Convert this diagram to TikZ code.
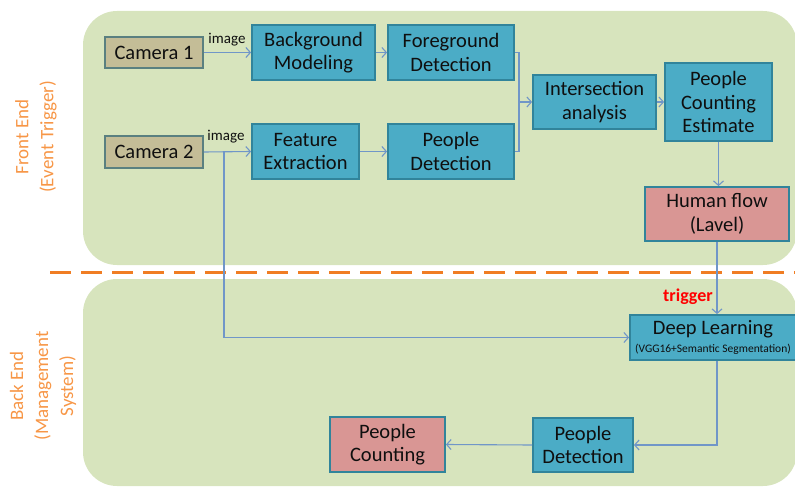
\documentclass[tikz,border=0pt]{standalone}
\usepackage{fontspec}
\setmainfont{Carlito}
\usetikzlibrary{arrows.meta,calc}
\definecolor{panel}{RGB}{215,228,189}
\definecolor{boxblue}{RGB}{75,172,198}
\definecolor{boxborder}{RGB}{49,132,155}
\definecolor{tan}{RGB}{196,189,151}
\definecolor{tanborder}{RGB}{90,128,128}
\definecolor{pinkbox}{RGB}{217,150,148}
\definecolor{linkc}{RGB}{112,150,200}
\definecolor{orangetxt}{RGB}{247,150,70}
\definecolor{orangedash}{RGB}{240,125,35}
\definecolor{txt}{RGB}{15,15,15}
\tikzset{
  x=1pt,y=-1pt,
  boxst/.style={draw=boxborder,fill=boxblue,line width=1.8pt,align=center,inner sep=0pt,
    text=txt,font=\fontsize{20.5}{23.5}\selectfont},
  camst/.style={boxst,fill=tan,draw=tanborder},
  pinkst/.style={boxst,fill=pinkbox},
  link/.style={draw=linkc,line width=1.1pt},
  arr/.style={link,-{Straight Barb[length=4.5pt,width=10pt,line width=1.1pt]}},
  sidelab/.style={text=orangetxt,font=\fontsize{19}{25}\selectfont,align=center,rotate=90},
  smalllab/.style={font=\fontsize{15}{17}\selectfont,text=txt,inner sep=0pt}
}
\begin{document}
\begin{tikzpicture}
\useasboundingbox (0,0) rectangle (795,487);
\begin{scope}
\clip (0,0) rectangle (795,487);
\fill[panel,rounded corners=34pt] (83,11) rectangle (797,265);
\fill[panel,rounded corners=34pt] (83,279) rectangle (797,486);
\end{scope}
\draw[orangedash,line width=3pt,dash pattern=on 21pt off 10pt] (50,272) -- (795,272);

\node[sidelab] (fe_lab) at (36,137) {Front End\\(Event Trigger)};
\node[sidelab] (be_lab) at (43,386) {Back End\\(Management\\System)};

\node[camst,minimum width=98pt,minimum height=31pt] (cam1) at (154,52.5) {Camera 1};
\node[camst,minimum width=98pt,minimum height=32pt] (cam2) at (154,152) {Camera 2};
\node[boxst,minimum width=123pt,minimum height=55pt] (bg) at (313.5,52.5) {Background\\Modeling};
\node[boxst,minimum width=126pt,minimum height=55pt] (fg) at (451,52.5) {Foreground\\Detection};
\node[boxst,minimum width=107pt,minimum height=55pt] (fe) at (305.5,151.5) {Feature\\Extraction};
\node[boxst,minimum width=126pt,minimum height=55pt] (pd1) at (451,151.5) {People\\Detection};
\node[boxst,minimum width=123pt,minimum height=54pt] (ia) at (594.5,102) {Intersection\\analysis};
\node[boxst,minimum width=107pt,minimum height=78pt] (pce) at (718.5,102) {People\\Counting\\Estimate};
\node[pinkst,minimum width=144pt,minimum height=54pt] (hf) at (717,214) {Human flow\\(Lavel)};
\node[boxst,minimum width=166pt,minimum height=45pt] (dl) at (713,337.5) {\raisebox{1pt}{Deep Learning}\\[-7pt]{\fontsize{11.5}{12}\selectfont(VGG16+Semantic Segmentation)}};
\node[boxst,minimum width=100pt,minimum height=54pt] (pd2) at (583,445) {People\\Detection};
\node[pinkst,minimum width=115pt,minimum height=55pt] (pc) at (387.5,444.5) {People\\Counting};

\node[smalllab] (img1) at (227,40) {image};
\node[smalllab] (img2) at (226,137) {image};
\node[font=\bfseries\fontsize{18}{19}\selectfont,text=red,inner sep=0pt] (trig) at (688,297) {trigger};

\draw[arr] (cam1.east) -- (bg.west);
\draw[arr] (bg.east) -- (fg.west);
\draw[arr] (cam2.east) -- (fe.west);
\draw[arr] (fe.east) -- (pd1.west);
\coordinate (j) at (519,102);
\draw[link] (fg.east) -| (j) |- (pd1.east);
\draw[arr] (j) -- (ia.west);
\draw[arr] (ia.east) -- (pce.west);
\draw[arr] (pce.south) -- (pce.south |- hf.north);
\draw[arr] (hf.south) -- (hf.south |- dl.north);
\coordinate (br) at (224,152);
\draw[arr] (br) |- (dl.west);
\draw[arr] (dl.south -| hf.south) |- (pd2.east);
\draw[arr] (pd2.west) -- (pc.east);
\end{tikzpicture}
\end{document}
